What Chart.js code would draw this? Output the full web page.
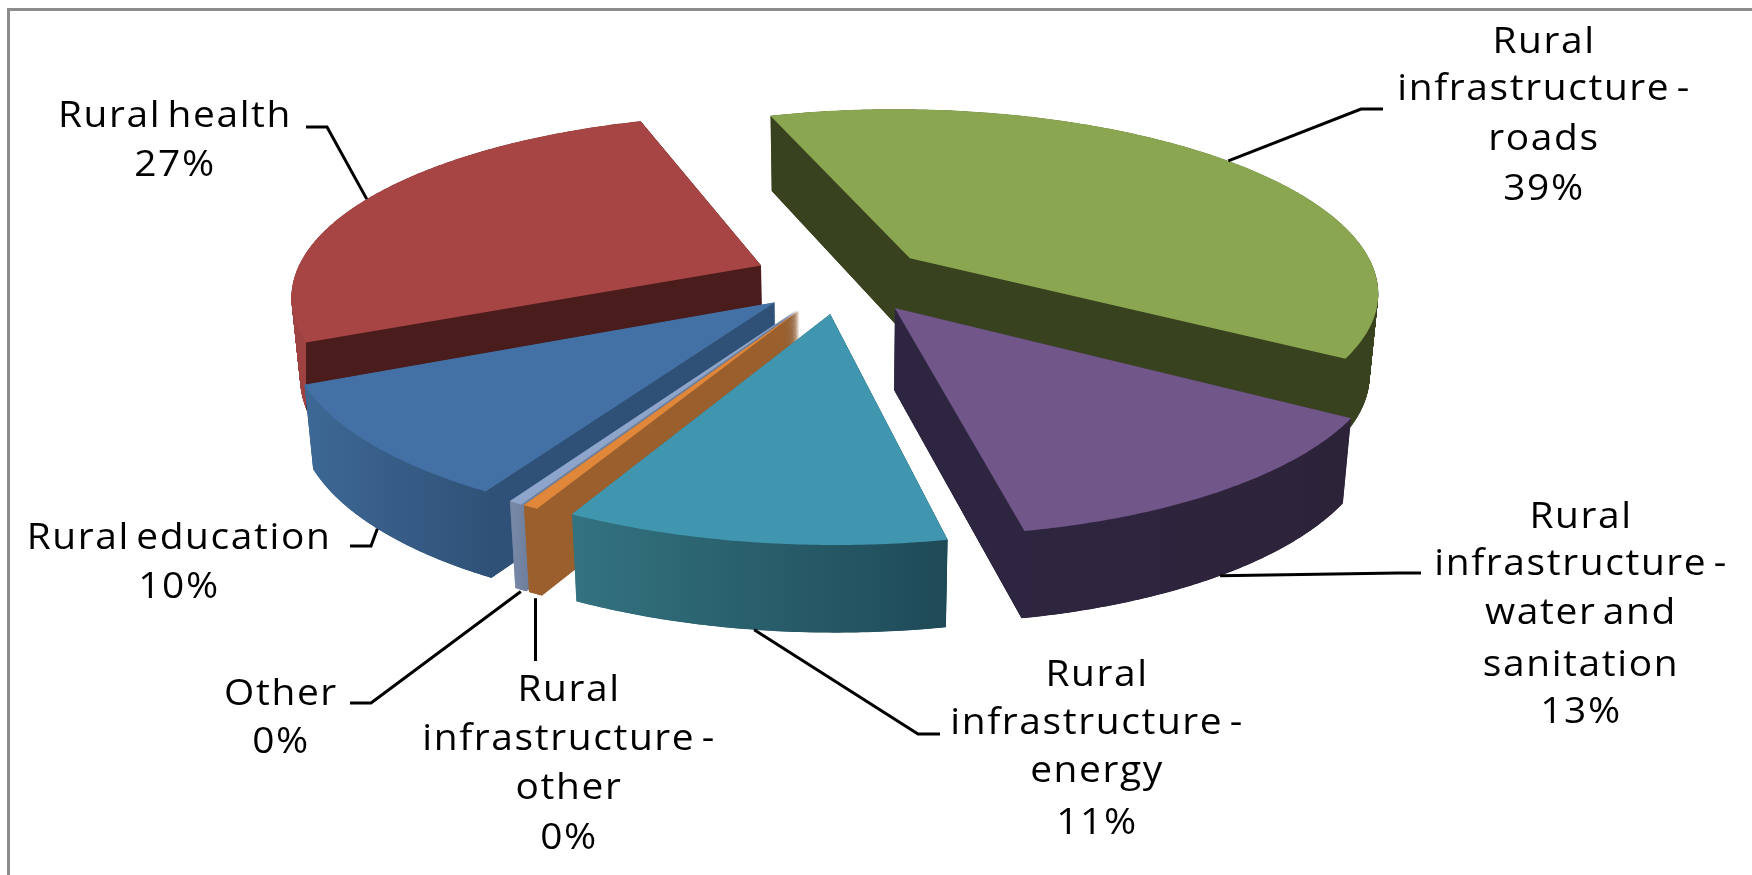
<!DOCTYPE html>
<html><head><meta charset="utf-8">
<style>html,body{margin:0;padding:0;background:#fff}canvas{display:block}</style>
<script src="https://cdn.jsdelivr.net/npm/chart.js@4"></script></head>
<body><canvas id="c" width="1752" height="875"></canvas>
<script>
const categories = ['Rural infrastructure - roads','Rural infrastructure - water and sanitation','Rural infrastructure - energy','Rural infrastructure - other','Other','Rural education','Rural health'];
const shares = [39, 13, 10.75, 0.45, 0.4, 9.8, 26.6];
const wrappedNames = [['Rural','infrastructure -','roads'],['Rural','infrastructure -','water and','sanitation'],['Rural','infrastructure -','energy'],['Rural','infrastructure -','other'],['Other'],['Rural education'],['Rural health']];
const topColors = ['#8aa650','#705689','#4096ae','#e0873a','#8ea5cb','#4471a5','#a74545'];
const wallLeft  = ['#38421f','#2e2540','#33727f','#9a5f2c','#7687a6','#3d6794','#9f4342'];
const wallRight = ['#38421f','#2d2339','#1f4a58','#9a5f2c','#6f7f9c','#2f5177','#4a1c1b'];
const wallHardEdge = [null,null,null,null,null,null,0.018];

// Camera: how the flat pie plane is seen in perspective
const cam = {cx:842, cy:279, A:468, B:180, k:0.165, s:6, depth:81, depthGrow:0.069, bottomShrink:0.016};
const explode = 0.19;
const paintOrder = [0,6,1,5,4,3,2];
const layers = 300;
// Label layout: text centre, per-line baselines, leader elbow and end
const labelLayout = [
 {x:1544, base:[53,100,150,200], z:0, elbow:[1361,109], end:[1383,109]},
 {x:1581, base:[528,575,624,676,723], z:1, elbow:[1398,573], end:[1421,573]},
 {x:1097, base:[686,734,782,834], z:1, elbow:[918,734], end:[940,734]},
 {x:569,  base:[701,750,799,849], z:1.05, elbow:null, endY:661},
 {x:281,  base:[705,753], z:1.02, elbow:[371,703], end:[350,703]},
 {x:179,  base:[549,598], z:1, elbow:[371,546], end:[350,546]},
 {x:175,  base:[127,176], z:0, elbow:[327,127], end:[306,127]}
];

function project(X, Y, z){
  const w = 1 - cam.k*Y;
  const xs = (cam.A*X + cam.s*Y)/w;
  return {
    x: cam.cx + xs*(1 - cam.bottomShrink*z),
    y: cam.cy + cam.B*Y/w + z*cam.depth*(1 + cam.depthGrow*Y)
  };
}
function planeCtx(real, el, z, fillOverride){
  const R = el.outerRadius, mid = (el.startAngle+el.endAngle)/2;
  const ex = explode*Math.cos(mid), ey = explode*Math.sin(mid);
  const pt = (px,py)=>project((px-el.x)/R+ex,(py-el.y)/R+ey,z);
  return {
    save(){real.save()}, restore(){real.restore()}, translate(){},
    beginPath(){real.beginPath()}, closePath(){real.closePath()},
    moveTo(x,y){const p=pt(x,y);real.moveTo(p.x,p.y)},
    lineTo(x,y){const p=pt(x,y);real.lineTo(p.x,p.y)},
    arc(x,y,r,a0,a1,ccw){
      const n=Math.max(2,Math.ceil(Math.abs(a1-a0)/0.01));
      for(let i=0;i<=n;i++){const a=a0+(a1-a0)*i/n;const p=pt(x+r*Math.cos(a),y+r*Math.sin(a));real.lineTo(p.x,p.y)}
    },
    fill(){ if(fillOverride) real.fillStyle=fillOverride; real.fill(); },
    stroke(){}, clip(){},
    set fillStyle(v){real.fillStyle=v}, set strokeStyle(v){}, set lineWidth(v){}, set lineJoin(v){}
  };
}
function arcPoint(el,angle,z){
  const mid=(el.startAngle+el.endAngle)/2;
  return project(Math.cos(angle)+explode*Math.cos(mid),Math.sin(angle)+explode*Math.sin(mid),z);
}
const pie3d = {
  id:'pie3d',
  beforeDatasetsDraw(chart){
    const ctx=chart.ctx, arcs=chart.getDatasetMeta(0).data;
    ctx.save();
    ctx.strokeStyle='#8c8c8c';ctx.lineWidth=3;ctx.strokeRect(8.5,9.5,2000,2000);
    paintOrder.forEach(i=>{
      const el=arcs[i];
      let lo=Infinity,hi=-Infinity;
      for(let t=0;t<=40;t++){const x=arcPoint(el,el.startAngle+(el.endAngle-el.startAngle)*t/40,1).x;lo=Math.min(lo,x);hi=Math.max(hi,x);}
      const g=ctx.createLinearGradient(lo,0,hi+1,0);
      const hard=wallHardEdge[i];
      g.addColorStop(0,wallLeft[i]);
      if(hard!==null){g.addColorStop(hard,wallLeft[i]);g.addColorStop(hard,wallRight[i]);}
      g.addColorStop(1,wallRight[i]);
      for(let l=layers;l>=1;l--) el.draw(planeCtx(ctx,el,l/layers,g));
      el.draw(planeCtx(ctx,el,0,null));
    });
    ctx.restore();
    return false;
  },
  afterDraw(chart){
    const ctx=chart.ctx, arcs=chart.getDatasetMeta(0).data;
    const total=shares.reduce((a,b)=>a+b,0);
    ctx.save();
    ctx.strokeStyle='#000';ctx.lineWidth=3;ctx.lineJoin='miter';
    labelLayout.forEach((lay,i)=>{
      const el=arcs[i];
      const a=arcPoint(el,(el.startAngle+el.endAngle)/2,lay.z);
      ctx.beginPath();ctx.moveTo(a.x,a.y);
      if(lay.elbow)ctx.lineTo(lay.elbow[0],lay.elbow[1]);
      if(lay.end)ctx.lineTo(lay.end[0],lay.end[1]); else ctx.lineTo(a.x,lay.endY);
      ctx.stroke();
    });
    ctx.fillStyle='#000';ctx.textAlign='center';ctx.textBaseline='alphabetic';
    ctx.font='500 36px "Open Sans"';ctx.letterSpacing='1.5px';ctx.wordSpacing='-5px';
    labelLayout.forEach((lay,i)=>{
      const lines=[...wrappedNames[i],Math.round(shares[i]/total*100)+'%'];
      lines.forEach((t,j)=>{
        ctx.save();ctx.translate(lay.x,lay.base[j]);ctx.scale(1.08,1);ctx.fillText(t,0,0);ctx.restore();
      });
    });
    ctx.restore();
  }
};
new Chart(document.getElementById('c'),{
  type:'pie',
  data:{labels:categories,datasets:[{data:shares,backgroundColor:topColors,borderWidth:0}]},
  options:{responsive:false,animation:false,rotation:-18.4,
    plugins:{legend:{display:false},tooltip:{enabled:false}}},
  plugins:[pie3d]
});
</script></body></html>
